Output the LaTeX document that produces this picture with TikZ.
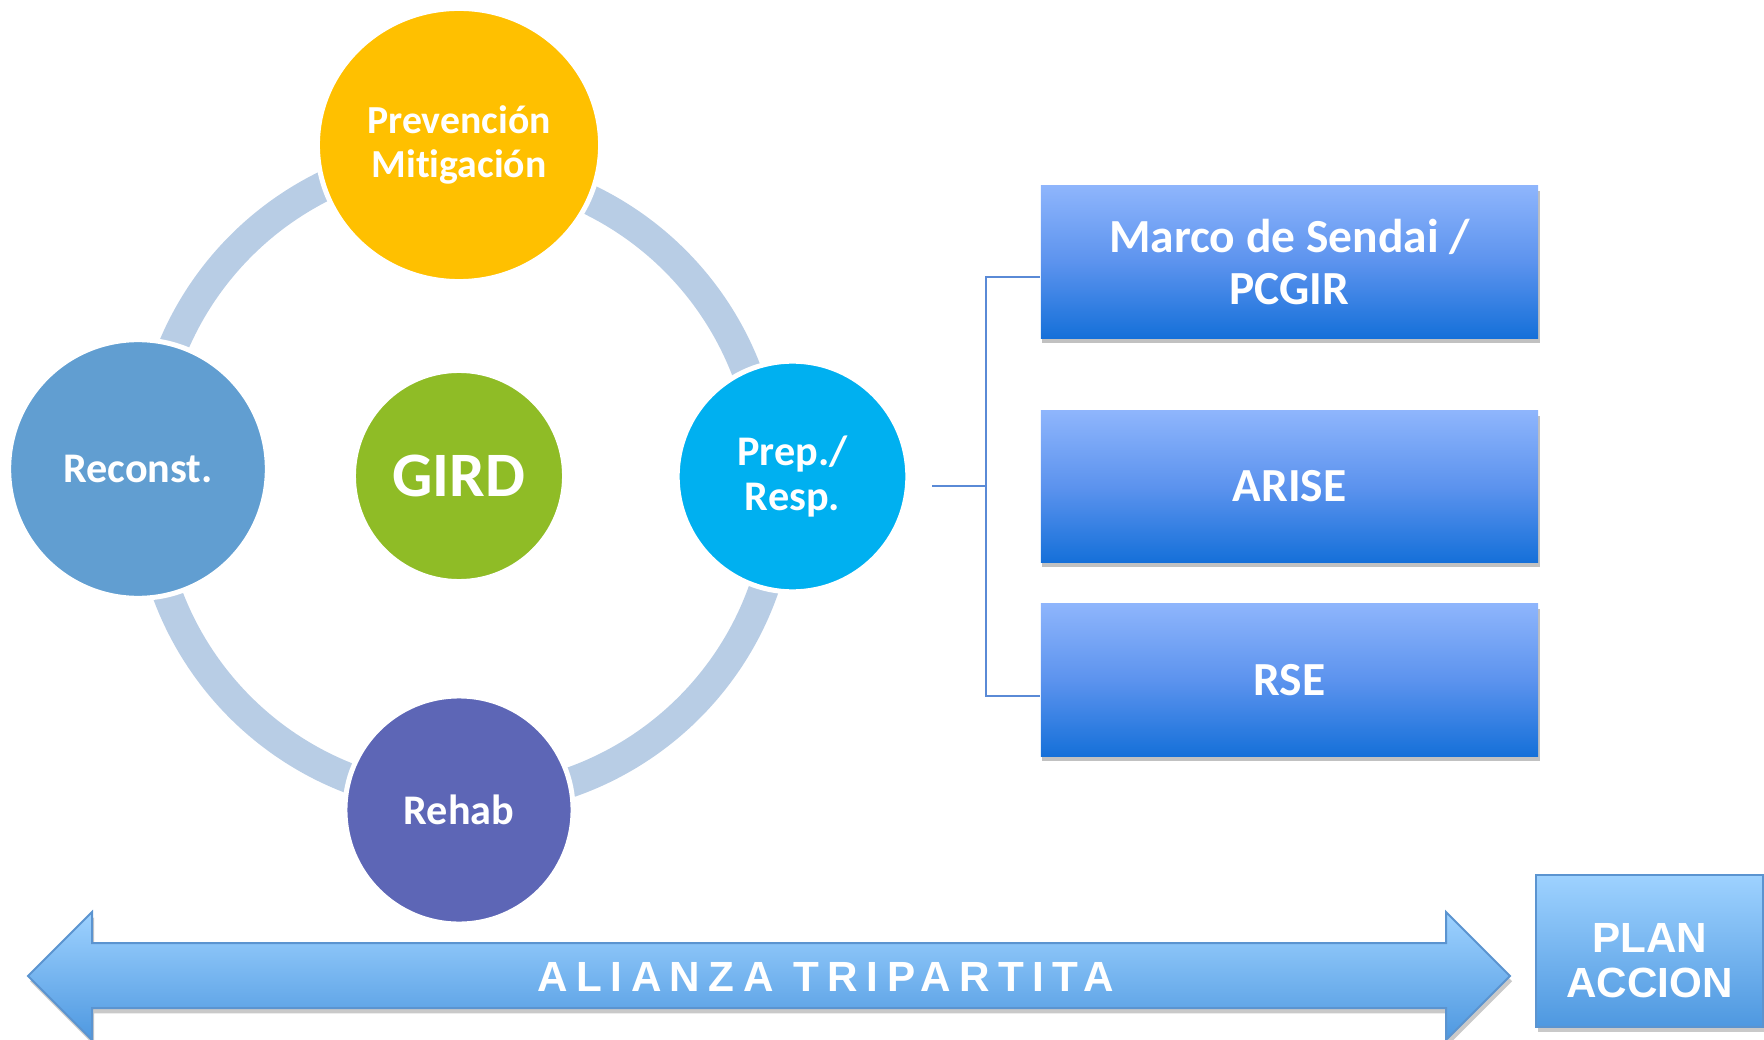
\documentclass[tikz,border=0pt]{standalone}
\usepackage{fontspec}
\setmainfont{Carlito}[Ligatures=NoCommon]
\newfontfamily\arialf{Liberation Sans}
\newfontfamily\arialsp{Liberation Sans}[LetterSpace=20]
\usetikzlibrary{shapes.geometric,shadows}
\definecolor{cPrev}{HTML}{FFC000}
\definecolor{cRec}{HTML}{619ED1}
\definecolor{cGird}{HTML}{8FBC26}
\definecolor{cPrep}{HTML}{00B0F0}
\definecolor{cReh}{HTML}{5D66B6}
\definecolor{cRing}{HTML}{B8CDE5}
\definecolor{cConn}{HTML}{5A8AD6}
\definecolor{boxTop}{HTML}{8EB5FC}
\definecolor{boxMid}{HTML}{5C93EE}
\definecolor{boxBot}{HTML}{1570D9}
\definecolor{arTop}{HTML}{9ED2FF}
\definecolor{arBot}{HTML}{4E98E0}
\definecolor{arLine}{HTML}{5B94D0}
\tikzset{
  disc/.style={circle, draw=white, line width=0.05cm, inner sep=0pt, text=white, font=\bfseries\fontsize{12}{13.2}\selectfont, align=center},
  ringline/.style={draw=cRing, line width=0.30cm},
  bluebox/.style={rectangle, inner sep=0pt, minimum width=4.97cm, top color=boxTop, bottom color=boxBot, middle color=boxMid, text=white, align=center, font=\bfseries\fontsize{13.5}{15}\selectfont, drop shadow={shadow xshift=0.4pt, shadow yshift=-1.3pt, opacity=0.35, fill=black!70}},
  conn/.style={draw=cConn, line width=0.02cm},
  bigarrow/.style={draw=arLine, line width=0.02cm, top color=arTop, bottom color=arBot, drop shadow={shadow xshift=0.6pt, shadow yshift=-1.5pt, opacity=0.3, fill=black!70}},
  planbox/.style={rectangle, draw=arLine, line width=0.02cm, inner sep=0pt, minimum width=2.27cm, minimum height=1.52cm, top color=arTop, bottom color=arBot, drop shadow={shadow xshift=0.6pt, shadow yshift=-1.5pt, opacity=0.3, fill=black!70}},
  wtext/.style={text=white, inner sep=0pt, align=center}
}
\begin{document}
\begin{tikzpicture}[x=0.01cm,y=-0.01cm]
\useasboundingbox (0,0) rectangle (1764,1040);
% ring arcs (each its own centre)
\coordinate (cUL) at (464.4,469.2);
\coordinate (cUR) at (451.5,484.0);
\coordinate (cLR) at (465.6,484.3);
\coordinate (cLL) at (463.5,483.7);
\draw[ringline] (cUL) ++(199.9:316) arc[start angle=199.9, end angle=247.2, radius=316];
\draw[ringline] (cUR) ++(-67.9:316) arc[start angle=-67.9, end angle=-17.6, radius=316];
\draw[ringline] (cLR) ++(15.7:316) arc[start angle=15.7, end angle=74.4, radius=316];
\draw[ringline] (cLL) ++(107.6:316) arc[start angle=107.6, end angle=162.7, radius=316];
% circles
\node[disc, ellipse, fill=cPrev, minimum width=2.83cm, minimum height=2.73cm, font=\bfseries\fontsize{11.3}{12.6}\selectfont] (prev) at (459,145) {Prevención\\Mitigación};
\node[disc, fill=cRec, minimum size=2.585cm] (rec) at (138,469) {Reconst.};
\node[disc, fill=cGird, minimum size=2.11cm, font=\bfseries\fontsize{18}{20}\selectfont] (gird) at (459,476) {GIRD};
\node[disc, fill=cPrep, minimum size=2.305cm, font=\bfseries\fontsize{12}{13}\selectfont] (prep) at (792.5,476.5) {Prep./\\Resp.};
\node[disc, fill=cReh, minimum size=2.28cm] (reh) at (459,810) {Rehab};
% boxes
\node[bluebox, minimum height=1.52cm] (b1) at (1289.5,262) {Marco de Sendai /\\PCGIR};
\node[bluebox, minimum height=1.51cm] (b2) at (1289.5,486.5) {ARISE};
\node[bluebox, minimum height=1.52cm] (b3) at (1289.5,680) {RSE};
% connectors
\coordinate (s) at (932,486);
\coordinate (j1) at (986,277);
\coordinate (j3) at (986,696);
\draw[conn] (s) -- (j1 |- s);
\draw[conn] (j1 -| b1.west) -- (j1) -- (j3) -- (j3 -| b3.west);
% double arrow
\draw[bigarrow] (28,976) -- (92,912) -- (92,943) -- (1446,943) -- (1446,912) -- (1510,976) -- (1446,1040) -- (1446,1008) -- (92,1008) -- (92,1040) -- cycle;
\node[wtext, font=\arialsp\bfseries\fontsize{12}{14}\selectfont] (al) at (826,977) {ALIANZA TRIPARTITA};
% plan accion
\node[planbox] (pa) at (1649.5,951) {};
\node[wtext, font=\arialf\bfseries\fontsize{12}{12.8}\selectfont] (pat) at ([yshift=-0.095cm]pa.center) {PLAN\\ACCION};
\end{tikzpicture}
\end{document}
